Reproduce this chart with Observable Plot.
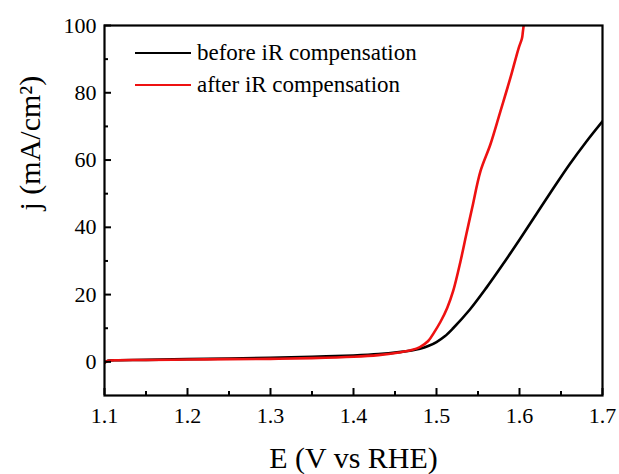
<!DOCTYPE html>
<html>
<head>
<meta charset="utf-8">
<script src="https://cdn.jsdelivr.net/npm/d3@7"></script>
<script src="https://cdn.jsdelivr.net/npm/@observablehq/plot@0.6"></script>
<style>
  html, body { margin: 0; padding: 0; background: #fff; }
  #wrap { position: relative; width: 619px; height: 474px; }
  #legend { position: absolute; left: 135px; top: 37px; font-size: 23px; color: #000; line-height: 32px; font-family: "Liberation Serif", serif; }
  #legend .row { display: flex; align-items: center; white-space: nowrap; }
  #legend .sw { display: inline-block; width: 56px; height: 2.6px; margin-right: 6px; }
</style>
</head>
<body>
<div id="wrap"></div>
<script>
// Data
const beforeE = [1.100, 1.103, 1.106, 1.115, 1.15, 1.20, 1.25, 1.30, 1.35, 1.40, 1.43, 1.455, 1.47, 1.48, 1.49, 1.50, 1.51, 1.52, 1.54, 1.56, 1.58, 1.60, 1.62, 1.64, 1.66, 1.68, 1.70];
const beforeJ = [-0.3, 0.2, 0.4, 0.5, 0.6, 0.8, 1.0, 1.2, 1.5, 1.9, 2.3, 2.9, 3.4, 3.9, 4.7, 5.9, 7.6, 10.0, 15.5, 22.0, 29.0, 36.3, 43.8, 51.3, 58.6, 65.3, 71.5];
const afterE = [1.100, 1.103, 1.106, 1.115, 1.15, 1.20, 1.25, 1.30, 1.35, 1.40, 1.43, 1.455, 1.47, 1.48, 1.49, 1.497, 1.505, 1.513, 1.52, 1.529, 1.536, 1.543, 1.553, 1.565, 1.577, 1.589, 1.599, 1.603, 1.604, 1.605];
const afterJ = [-0.3, 0.2, 0.4, 0.5, 0.55, 0.7, 0.8, 0.9, 1.1, 1.5, 2.0, 2.8, 3.5, 4.4, 6.2, 8.7, 12.0, 16.1, 21.0, 30.0, 38.0, 45.8, 56.7, 64.7, 74.5, 84.4, 93.3, 96.2, 98.0, 100.0];
const seriesNames = ["before iR compensation", "after iR compensation"];
const seriesColors = ["#000000", "#ee1111"];
const xMajor = [1.1, 1.2, 1.3, 1.4, 1.5, 1.6, 1.7];
const xMinor = [1.15, 1.25, 1.35, 1.45, 1.55, 1.65];
const yMajor = [0, 20, 40, 60, 80, 100];
const yMinor = [10, 30, 50, 70, 90];
const xLabel = "E (V vs RHE)";
const yLabel = "j (mA/cm²)";

const rows = [];
beforeE.forEach((e, i) => rows.push({E: e, j: beforeJ[i], s: seriesNames[0]}));
afterE.forEach((e, i) => rows.push({E: e, j: afterJ[i], s: seriesNames[1]}));

const font = "Liberation Serif";

const chart = Plot.plot({
  width: 619,
  height: 474,
  marginLeft: 104,
  marginRight: 17,
  marginTop: 25,
  marginBottom: 79,
  x: {domain: [1.1, 1.7]},
  y: {domain: [-10, 100]},
  color: {domain: seriesNames, range: seriesColors},
  marks: [
    Plot.line(rows, {x: "E", y: "j", z: "s", stroke: "s", strokeWidth: 2.6, curve: "catmull-rom", clip: true}),
    Plot.axisX({ticks: xMajor, tickSize: -7, stroke: "#000", strokeWidth: 2, text: null, label: null}),
    Plot.axisX({ticks: xMinor, tickSize: -4, stroke: "#000", strokeWidth: 2, text: null, label: null}),
    Plot.axisY({ticks: yMajor, tickSize: -7, stroke: "#000", strokeWidth: 2, text: null, label: null}),
    Plot.axisY({ticks: yMinor, tickSize: -4, stroke: "#000", strokeWidth: 2, text: null, label: null}),
    Plot.axisX({ticks: xMajor, tickSize: 0, tickPadding: 12, fontSize: 22, fontFamily: font, tickFormat: d3.format(".1f"), label: null}),
    Plot.axisY({ticks: yMajor, tickSize: 0, tickPadding: 8, fontSize: 22, fontFamily: font, tickFormat: d3.format("d"), label: null}),
    Plot.frame({stroke: "#000", strokeWidth: 2.2}),
    Plot.text([xLabel], {frameAnchor: "bottom", dy: 72, lineAnchor: "bottom", fontSize: 30, fontFamily: font, text: d => d, fill: "#000"}),
    Plot.text([yLabel], {frameAnchor: "left", dx: -74, rotate: -90, lineAnchor: "middle", fontSize: 30, fontFamily: font, text: d => d, fill: "#000"})
  ]
});

const wrap = document.getElementById("wrap");
wrap.appendChild(chart);
const legend = document.createElement("div");
legend.id = "legend";
seriesNames.forEach((name, i) => {
  const row = document.createElement("div");
  row.className = "row";
  const sw = document.createElement("span");
  sw.className = "sw";
  sw.style.background = seriesColors[i];
  const t = document.createElement("span");
  t.textContent = name;
  row.appendChild(sw);
  row.appendChild(t);
  legend.appendChild(row);
});
wrap.appendChild(legend);
</script>
</body>
</html>
